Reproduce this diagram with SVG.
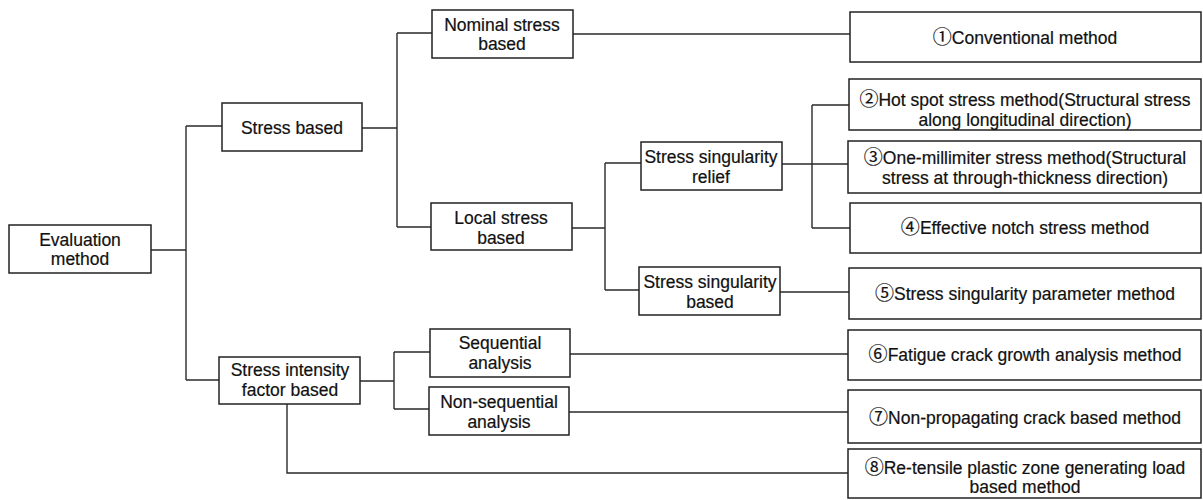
<svg xmlns="http://www.w3.org/2000/svg" width="1203" height="500" viewBox="0 0 1203 500">
<style>
.box{fill:#fff;stroke:#222;stroke-width:1.5}
.t{font-family:"Liberation Sans","Noto Sans CJK JP",sans-serif;font-size:17.5px;fill:#111;text-anchor:middle;stroke:#111;stroke-width:0.2}
.n{font-family:"Noto Sans CJK JP",sans-serif;font-size:19px}
.c{fill:none;stroke:#2a2a2a;stroke-width:1.4}
</style>
<rect width="1203" height="500" fill="#fff"/>
<g id="connectors">
<path class="c" d="M151 250H186M186 126V380M186 126H222M186 380H219"/>
<path class="c" d="M362 128H397M397 33V227M397 33H432M397 227H431"/>
<path class="c" d="M573 34H850"/>
<path class="c" d="M572 228H605M605 163V290M605 163H641M605 290H639"/>
<path class="c" d="M782 164H812M812 105V228M812 105H849M812 164H848M812 228H850"/>
<path class="c" d="M780 292H849"/>
<path class="c" d="M360 381H394M394 352V409M394 352H430M394 409H429"/>
<path class="c" d="M570 354H848"/>
<path class="c" d="M569 412H848"/>
<path class="c" d="M287 404V473H848"/>
</g>
<g id="evaluation"><rect class="box" x="9" y="225" width="142" height="48"/><text class="t" x="80" y="246">Evaluation</text><text class="t" x="80" y="265">method</text></g>
<g id="stress-based"><rect class="box" x="222" y="103" width="140" height="48"/><text class="t" x="292" y="134">Stress based</text></g>
<g id="sif-based"><rect class="box" x="219" y="357" width="141" height="47"/><text class="t" x="290" y="376">Stress intensity</text><text class="t" x="290" y="396">factor based</text></g>
<g id="nominal"><rect class="box" x="432" y="10" width="141" height="48"/><text class="t" x="502" y="31">Nominal stress</text><text class="t" x="502" y="50">based</text></g>
<g id="local"><rect class="box" x="431" y="203" width="141" height="47"/><text class="t" x="501" y="224">Local stress</text><text class="t" x="501" y="244">based</text></g>
<g id="ss-relief"><rect class="box" x="641" y="142" width="141" height="48"/><text class="t" x="711" y="163">Stress singularity</text><text class="t" x="711" y="183">relief</text></g>
<g id="ss-based"><rect class="box" x="639" y="267" width="141" height="48"/><text class="t" x="710" y="288">Stress singularity</text><text class="t" x="710" y="308">based</text></g>
<g id="sequential"><rect class="box" x="430" y="329" width="140" height="48"/><text class="t" x="500" y="349">Sequential</text><text class="t" x="500" y="369">analysis</text></g>
<g id="non-sequential"><rect class="box" x="429" y="387" width="140" height="48"/><text class="t" x="499" y="408">Non-sequential</text><text class="t" x="499" y="428">analysis</text></g>
<g id="m1"><rect class="box" x="850" y="12" width="351" height="50"/><text class="t" x="1025" y="44"><tspan class="n">①</tspan>Conventional method</text></g>
<g id="m2"><rect class="box" x="849" y="79" width="352" height="51"/><text class="t" x="1025" y="106"><tspan class="n">②</tspan>Hot spot stress method(Structural stress</text><text class="t" x="1025" y="126">along longitudinal direction)</text></g>
<g id="m3"><rect class="box" x="848" y="141" width="353" height="52"/><text class="t" x="1025" y="164"><tspan class="n">③</tspan>One-millimiter stress method(Structural</text><text class="t" x="1025" y="184">stress at through-thickness direction)</text></g>
<g id="m4"><rect class="box" x="850" y="203" width="351" height="50"/><text class="t" x="1025" y="234"><tspan class="n">④</tspan>Effective notch stress method</text></g>
<g id="m5"><rect class="box" x="849" y="268" width="352" height="51"/><text class="t" x="1025" y="300"><tspan class="n">⑤</tspan>Stress singularity parameter method</text></g>
<g id="m6"><rect class="box" x="848" y="330" width="353" height="50"/><text class="t" x="1025" y="361"><tspan class="n">⑥</tspan>Fatigue crack growth analysis method</text></g>
<g id="m7"><rect class="box" x="848" y="390" width="353" height="53"/><text class="t" x="1025" y="424"><tspan class="n">⑦</tspan>Non-propagating crack based method</text></g>
<g id="m8"><rect class="box" x="848" y="449" width="353" height="49"/><text class="t" x="1025" y="474"><tspan class="n">⑧</tspan>Re-tensile plastic zone generating load</text><text class="t" x="1025" y="493">based method</text></g>
</svg>
